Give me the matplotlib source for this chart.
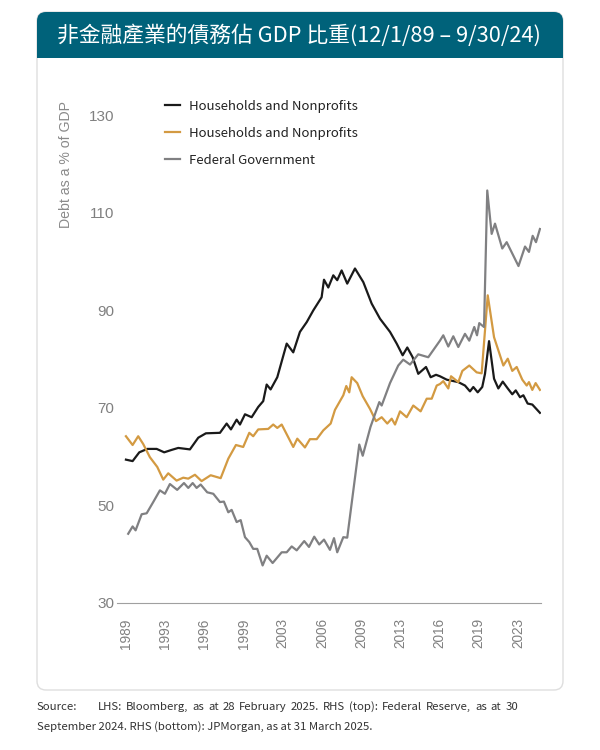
import matplotlib
matplotlib.use("Agg")
import matplotlib.pyplot as plt
from matplotlib.patches import FancyBboxPatch, Rectangle
import numpy as np

# data (year, % of GDP)
black_years = [1989.92, 1990.48, 1991.04, 1991.71, 1992.50, 1993.13, 1993.76, 1994.31, 1995.29, 1995.99,
               1996.63, 1997.81, 1998.37, 1998.73, 1999.21, 1999.49, 1999.91, 2000.47, 2001.02, 2001.44,
               2001.73, 2002.06, 2002.62, 2003.41, 2003.96, 2004.52, 2005.09, 2005.64, 2006.34, 2006.54,
               2006.90, 2007.32, 2007.65, 2008.02, 2008.49, 2009.14, 2009.84, 2010.54, 2011.24, 2012.08,
               2012.64, 2013.14, 2013.53, 2013.98, 2014.45, 2015.10, 2015.49, 2015.94, 2016.27, 2016.84,
               2017.81, 2018.37, 2018.79, 2019.07, 2019.44, 2019.82, 2020.05, 2020.39, 2020.81, 2021.17,
               2021.54, 2021.96, 2022.34, 2022.63, 2022.99, 2023.27, 2023.63, 2024.02, 2024.66]
black_vals = [59.4, 59.1, 60.9, 61.6, 61.6, 60.9, 61.4, 61.8, 61.5, 63.9,
              64.8, 64.9, 66.8, 65.6, 67.6, 66.6, 68.7, 68.1, 70.2, 71.4,
              74.8, 73.8, 76.3, 83.2, 81.4, 85.6, 87.6, 90.0, 92.7, 96.3,
              94.7, 97.2, 96.2, 98.2, 95.5, 98.6, 95.8, 91.4, 88.3, 85.6,
              83.2, 80.8, 82.4, 80.4, 77.0, 78.4, 76.3, 76.8, 76.5, 75.8,
              75.3, 74.6, 73.4, 74.3, 73.2, 74.3, 77.0, 83.7, 76.0, 74.0,
              75.4, 74.0, 72.8, 73.6, 72.2, 72.6, 70.9, 70.7, 69.0]

orange_years = [1989.92, 1990.48, 1990.95, 1991.37, 1991.93, 1992.55, 1993.05, 1993.47, 1994.17, 1994.73,
                1995.15, 1995.71, 1996.27, 1997.03, 1997.87, 1998.51, 1999.15, 1999.76, 2000.27, 2000.60,
                2001.02, 2001.86, 2002.28, 2002.62, 2002.99, 2003.96, 2004.30, 2004.94, 2005.36, 2005.93,
                2006.48, 2007.10, 2007.46, 2008.16, 2008.41, 2008.66, 2008.86, 2009.33, 2009.79, 2010.40,
                2010.90, 2011.38, 2011.85, 2012.22, 2012.50, 2012.92, 2013.48, 2014.03, 2014.65, 2015.16,
                2015.58, 2016.00, 2016.27, 2016.55, 2016.97, 2017.20, 2017.81, 2018.15, 2018.73, 2019.35,
                2019.77, 2020.28, 2020.81, 2021.59, 2021.96, 2022.34, 2022.71, 2023.18, 2023.55, 2023.74,
                2024.02, 2024.30, 2024.66]
orange_vals = [64.2, 62.4, 64.2, 62.6, 59.9, 57.9, 55.3, 56.6, 55.1, 55.7,
               55.5, 56.3, 55.0, 56.2, 55.6, 59.6, 62.4, 62.0, 64.9, 64.2,
               65.6, 65.7, 66.6, 65.9, 66.6, 62.0, 63.7, 61.9, 63.6, 63.6,
               65.4, 66.8, 69.6, 72.6, 74.5, 73.2, 76.3, 75.1, 72.4, 69.8,
               67.3, 68.1, 66.8, 67.8, 66.6, 69.3, 68.1, 70.5, 69.3, 71.9,
               71.9, 74.6, 74.9, 75.5, 74.0, 76.5, 75.3, 77.6, 78.7, 77.3,
               77.1, 93.1, 84.5, 78.7, 80.1, 77.6, 78.4, 75.8, 74.6, 75.3,
               73.7, 75.1, 73.7]

gray_years = [1990.11, 1990.48, 1990.73, 1991.24, 1991.66, 1992.21, 1992.77, 1993.19, 1993.61, 1994.22,
              1994.79, 1995.15, 1995.52, 1995.85, 1996.19, 1996.74, 1997.25, 1997.81, 1998.14, 1998.51,
              1998.79, 1999.21, 1999.55, 1999.91, 2000.27, 2000.60, 2000.94, 2001.39, 2001.73, 2002.23,
              2002.99, 2003.41, 2003.83, 2004.25, 2004.88, 2005.28, 2005.72, 2006.14, 2006.54, 2007.04,
              2007.38, 2007.65, 2008.16, 2008.49, 2009.50, 2009.79, 2010.44, 2011.18, 2011.38, 2012.08,
              2012.77, 2013.19, 2013.76, 2014.45, 2015.29, 2016.27, 2016.55, 2016.97, 2017.39, 2017.81,
              2018.37, 2018.73, 2019.15, 2019.38, 2019.57, 2019.97, 2020.24, 2020.61, 2020.89, 2021.50,
              2021.87, 2022.86, 2023.41, 2023.74, 2024.05, 2024.33, 2024.66]
gray_vals = [44.2, 45.7, 44.9, 48.2, 48.4, 50.7, 53.1, 52.4, 54.4, 53.2,
             54.6, 53.6, 54.6, 53.6, 54.3, 52.7, 52.4, 50.7, 50.8, 48.6,
             49.1, 46.6, 47.0, 43.5, 42.5, 41.1, 41.1, 37.7, 39.7, 38.2,
             40.4, 40.4, 41.6, 40.8, 42.7, 41.5, 43.6, 42.0, 43.0, 40.9,
             43.3, 40.4, 43.5, 43.4, 62.5, 60.2, 66.1, 71.2, 70.5, 75.1,
             78.7, 79.9, 78.9, 81.0, 80.4, 83.8, 84.9, 82.6, 84.7, 82.5,
             85.2, 83.8, 86.6, 84.9, 87.4, 86.6, 114.6, 105.7, 107.8, 102.7,
             104.0, 99.1, 103.1, 102.0, 105.3, 104.0, 106.7]

labels = ["Households and Nonprofits", "Households and Nonprofits", "Federal Government"]
colors = ["#1a1a1a", "#d39a42", "#808082"]
yticks = [30, 50, 70, 90, 110, 130]
xtick_labels = ["1989", "1993", "1996", "1999", "2003", "2006", "2009", "2013", "2016", "2019", "2023"]

title = "非金融產業的債務佔 GDP 比重(12/1/89 – 9/30/24)"
source1 = "Source: LHS: Bloomberg, as at 28 February 2025. RHS (top): Federal Reserve, as at 30"
source2 = "September 2024. RHS (bottom): JPMorgan, as at 31 March 2025."

fig = plt.figure(figsize=(6, 7.5), dpi=100)

# background layer in pixel units
bg = fig.add_axes([0, 0, 1, 1])
bg.set_xlim(0, 600)
bg.set_ylim(750, 0)
bg.axis("off")
bg.add_patch(FancyBboxPatch((37, 12), 526, 678, boxstyle="round,pad=0,rounding_size=9",
                            facecolor="white", edgecolor="#dedede", lw=1))
bg.add_patch(FancyBboxPatch((37, 12), 526, 46, boxstyle="round,pad=0,rounding_size=9",
                            facecolor="#00627a", edgecolor="none"))
bg.add_patch(Rectangle((37, 35), 526, 23, facecolor="#00627a", edgecolor="none"))
bg.text(299, 35, title, color="white", fontsize=15.7, ha="center", va="center",
        family=["Noto Sans CJK TC", "DejaVu Sans"], weight="medium")

# justified first source line: spread the words between x=98 and x=518
foot = dict(fontsize=8.2, color="#333333", va="center", family=["Noto Sans CJK TC"])
fig.canvas.draw()
renderer = fig.canvas.get_renderer()
words = source1.split(" ")
widths = []
for w in words:
    t = bg.text(0, 0, w, **foot)
    widths.append(t.get_window_extent(renderer).width)
    t.remove()
gap0 = 61 - widths[0]
gap = (518 - 98 - sum(widths[1:])) / (len(words) - 2)
x = 37
for i, w in enumerate(words):
    bg.text(x, 707, w, **foot)
    x += widths[i] + (gap0 if i == 0 else gap)
bg.text(37, 727, source2, **foot)

bg.text(66, 164, "Debt as a % of GDP", rotation=90, fontsize=10.2, color="#8a8a8a",
        ha="center", va="center", family=["Liberation Sans"])

ax = fig.add_axes([117 / 600, 147 / 750, 424 / 600, 512 / 750])
ax.set_facecolor("none")
ax.plot(black_years, black_vals, color=colors[0], lw=1.6, label=labels[0])
ax.plot(orange_years, orange_vals, color=colors[1], lw=1.6, label=labels[1])
ax.plot(gray_years, gray_vals, color=colors[2], lw=1.6, label=labels[2])

ax.set_xlim(1989.17, 2024.75)
ax.set_ylim(30, 135)
ax.set_yticks(yticks)
ax.set_xticks(np.linspace(1989.92, 1989.92 + 10 * 3.29, 11))
ax.set_xticklabels(xtick_labels, rotation=90)
for s in ["top", "right", "left"]:
    ax.spines[s].set_visible(False)
ax.spines["bottom"].set_color("#a0a0a0")
ax.tick_params(axis="y", length=0, pad=2, labelsize=11, labelcolor="#808080")
ax.tick_params(axis="x", length=0, pad=11, labelsize=9.8, labelcolor="#808080")
for t in ax.get_xticklabels() + ax.get_yticklabels():
    t.set_family("Liberation Sans")

leg = ax.legend(loc="upper left", bbox_to_anchor=(165 / 600, 1 - 100 / 750), bbox_transform=fig.transFigure,
                frameon=False, handlelength=1.14, handletextpad=0.68, labelspacing=1.05, borderpad=0,
                borderaxespad=0, prop={"family": "Noto Sans CJK TC", "size": 9.5})
for t in leg.get_texts():
    t.set_color("#222222")

fig.savefig("out.png", dpi=100)
